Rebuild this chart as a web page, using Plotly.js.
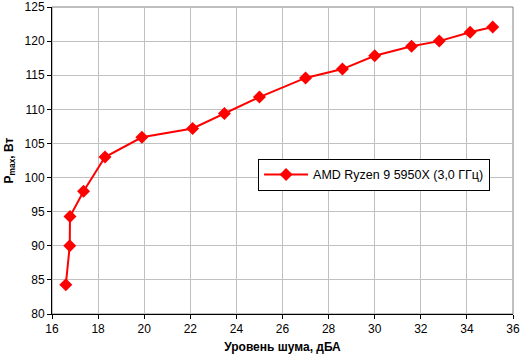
<!DOCTYPE html>
<html><head><meta charset="utf-8">
<script src="https://cdn.plot.ly/plotly-3.0.1.min.js"></script>
<style>body{margin:0;background:#fff}#c{width:520px;height:357px}</style>
</head><body><div id="c"></div>
<script>
const noise = [16.6, 16.77, 16.78, 17.37, 18.3, 19.9, 22.1, 23.48, 25.0, 27.0, 28.6, 30.0, 31.6, 32.8, 34.14, 35.12];
const power = [84.3, 90.0, 94.3, 98.0, 103.0, 105.9, 107.2, 109.4, 111.8, 114.6, 115.9, 117.85, 119.25, 120.0, 121.3, 122.07];
const seriesName = 'AMD Ryzen 9 5950X (3,0 ГГц)';
const xTitle = 'Уровень шума, дБА';
const yTitle = 'P<sub>max</sub>, Вт';

const trace = {x: noise, y: power, name: seriesName, type: 'scatter', mode: 'lines+markers',
  line: {color: '#ff0000', width: 2}, marker: {symbol: 'diamond', size: 10, color: '#ff0000'}};

const font = {family: 'Liberation Sans, Arial, sans-serif', size: 12, color: '#000'};
const layout = {
  width: 520, height: 357,
  margin: {l: 52, r: 7, t: 7, b: 43},
  paper_bgcolor: '#fff', plot_bgcolor: '#fff',
  font: font,
  showlegend: true,
  legend: {x: 0.447, y: 0.505, xanchor: 'left', yanchor: 'top', bgcolor: '#fff', bordercolor: '#000', borderwidth: 1,
    font: {family: 'Liberation Sans, Arial, sans-serif', size: 12.5, color: '#000'}, itemwidth: 44},
  xaxis: {range: [16, 36], dtick: 2, tick0: 16, showgrid: true, gridcolor: '#c0c0c0', gridwidth: 1,
    showline: true, linecolor: '#000', linewidth: 1, ticks: 'outside', ticklen: 4, tickcolor: '#000',
    zeroline: false, tickfont: font,
    title: {text: xTitle, font: {family: 'Liberation Sans, Arial, sans-serif', size: 12, color: '#000', weight: 'bold'}, standoff: 7}},
  yaxis: {range: [80, 125], dtick: 5, tick0: 80, showgrid: true, gridcolor: '#c0c0c0', gridwidth: 1,
    showline: true, linecolor: '#000', linewidth: 1, ticks: 'outside', ticklen: 4, tickcolor: '#000',
    zeroline: false, tickfont: font,
    title: {text: yTitle, font: {family: 'Liberation Sans, Arial, sans-serif', size: 12, color: '#000', weight: 'bold'}, standoff: 8}},
  shapes: [{type: 'rect', xref: 'paper', yref: 'paper', x0: 0, x1: 1, y0: 0, y1: 1,
    line: {color: '#808080', width: 1}, layer: 'below'}]
};
Plotly.newPlot('c', [trace], layout, {displayModeBar: false, staticPlot: true});
</script></body></html>
